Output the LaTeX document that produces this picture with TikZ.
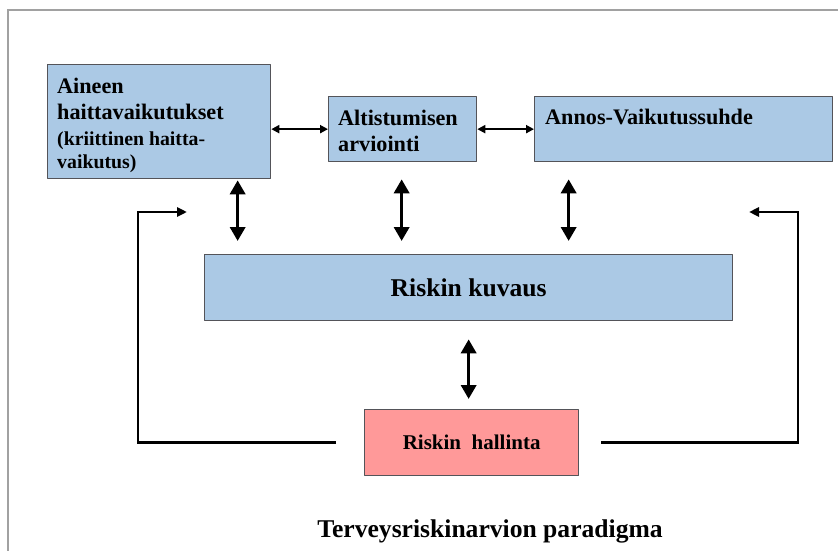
\documentclass[tikz,border=0pt]{standalone}
\usepackage{fontspec}
\setmainfont{Liberation Serif}
\usetikzlibrary{arrows.meta}
\definecolor{aacae6}{rgb}{0.67,0.79,0.9}
\definecolor{ff9999}{rgb}{1,0.6,0.6}
\definecolor{wwwwww}{rgb}{0.33,0.33,0.35}
\definecolor{aaaaaa}{rgb}{0.63,0.63,0.63}

\begin{document}
\begin{tikzpicture}[line cap=round,line join=round,x=1pt,y=-1pt,
    blbox/.style={draw=wwwwww,line width=1.3pt,fill=aacae6,anchor=north west,inner sep=0pt},
    rdbox/.style={blbox,fill=ff9999},
    boxtxt/.style={anchor=north west,align=left,inner sep=0pt,font=\fontsize{22.2}{26}\selectfont\bfseries},
    bigtxt/.style={font=\fontsize{25.6}{30}\selectfont\bfseries},
    thinarr/.style={{Triangle[width=8pt,length=8pt]}-{Triangle[width=8pt,length=8pt]},line width=2pt},
    thickarr/.style={{Triangle[width=15pt,length=14pt]}-{Triangle[width=15pt,length=14pt]},line width=3.5pt},
    backarr/.style={-{Triangle[width=9pt,length=10pt]},line width=2.8pt,line cap=butt,line join=miter}]
      \useasboundingbox (0,0) rectangle (838,551);
      \draw[color=aaaaaa,line width=2pt,line cap=butt,line join=miter] (8,551) -- (8,10) -- (838,10);
      % laatikot
      \node[blbox,minimum width=223pt,minimum height=114pt] (aineen) at (47,64) {};
      \node[blbox,minimum width=148pt,minimum height=65pt] (alt) at (328,96) {};
      \node[blbox,minimum width=298pt,minimum height=65pt] (annos) at (534,96) {};
      \node[blbox,minimum width=528pt,minimum height=66pt,bigtxt] (kuvaus) at (204,254) {Riskin kuvaus};
      \node[rdbox,minimum width=214pt,minimum height=66pt,font=\fontsize{21}{26}\selectfont\bfseries] (hallinta) at (364,409) {Riskin\ \ hallinta};
      \node[boxtxt] (aineentxt) at ([xshift=10pt,yshift=-13.5pt]aineen.north west)
        {Aineen\\ haittavaikutukset\\ {\fontsize{19.8}{23}\selectfont (kriittinen haitta-}\\[-3pt] {\fontsize{19.8}{23}\selectfont vaikutus)}};
      \node[boxtxt] (alttxt) at ([xshift=10pt,yshift=-13.5pt]alt.north west) {Altistumisen\\ arviointi};
      \node[boxtxt] (annostxt) at ([xshift=11pt,yshift=-12.5pt]annos.north west) {Annos-Vaikutussuhde};
      \node[bigtxt,anchor=base] (paradigma) at (490,537) {Terveysriskinarvion paradigma};
      % nuolet
      \draw[thinarr] (aineen.east |- alt.west) -- (alt.west);
      \draw[thinarr] (alt.east) -- (alt.east -| annos.west);
      \draw[thickarr,shorten <=1pt,shorten >=13pt] ([xshift=78.5pt]aineen.south) -- ([xshift=78.5pt]aineen.south |- kuvaus.north);
      \draw[thickarr,shorten <=17pt,shorten >=13pt] ([xshift=-1pt]alt.south) -- ([xshift=-1pt]alt.south |- kuvaus.north);
      \draw[thickarr,shorten <=17pt,shorten >=13pt] ([xshift=-115pt]annos.south) -- ([xshift=-115pt]annos.south |- kuvaus.north);
      \draw[thickarr,shorten <=18pt,shorten >=10pt] (kuvaus.south) -- (kuvaus.south |- hallinta.north);
      % palaute
      \coordinate (lknee) at (138,212);
      \coordinate (ltip) at (187,212);
      \coordinate (rknee) at (798,212);
      \coordinate (rtip) at (749,212);
      \draw[backarr] ([xshift=-28pt]hallinta.west) -| (lknee) -- (ltip);
      \draw[backarr] ([xshift=22pt]hallinta.east) -| (rknee) -- (rtip);
\end{tikzpicture}
\end{document}
